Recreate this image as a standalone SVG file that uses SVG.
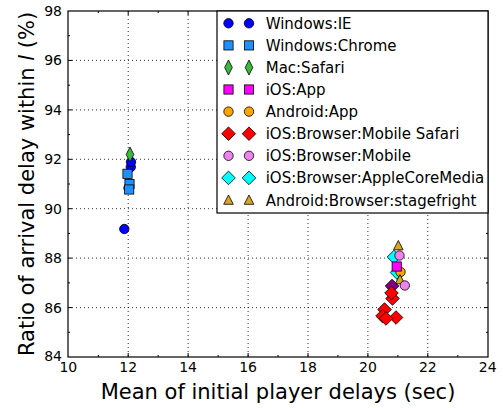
<svg xmlns="http://www.w3.org/2000/svg" xmlns:xlink="http://www.w3.org/1999/xlink" width="503" height="408" viewBox="0 0 503 408">
<style>
text{font-family:"DejaVu Sans","Liberation Sans",sans-serif;fill:#000}
.tk{font-size:14px}
.lg{font-size:15px}
.ax{font-size:21px}
.grid line{stroke:#000;stroke-width:0.8;stroke-dasharray:1,3}
.tick line{stroke:#000;stroke-width:1}
.m{stroke:#000;stroke-width:0.8}
.ie{fill:#0000ff}.ch{fill:#1e90ff}.sa{fill:#3cb83c}.ap{fill:#ff00ff}.aa{fill:#ffa500}
.ms{fill:#ff0000}.mo{fill:#ee82ee}.cm{fill:#00ffff}.sf{fill:#daa520}.pu{fill:#800080}
</style>
<defs>
<circle id="mc" r="4.7"/>
<rect id="msq" x="-4.6" y="-4.6" width="9.2" height="9.2"/>
<path id="md" d="M0,-7.5L3.8,0L0,7.5L-3.8,0Z"/>
<path id="mD" d="M0,-6.8L6.8,0L0,6.8L-6.8,0Z"/>
<path id="mt" d="M0,-5.5L4.8,3.8L-4.8,3.8Z"/>
</defs>
<rect width="503" height="408" fill="#fff"/>
<g id="grid" class="grid">
<line x1="128.2" y1="11" x2="128.2" y2="357"/>
<line x1="188.1" y1="11" x2="188.1" y2="357"/>
<line x1="248.1" y1="11" x2="248.1" y2="357"/>
<line x1="308" y1="11" x2="308" y2="357"/>
<line x1="367.9" y1="11" x2="367.9" y2="357"/>
<line x1="427.8" y1="11" x2="427.8" y2="357"/>
<line x1="68" y1="307.6" x2="488" y2="307.6"/>
<line x1="68" y1="258.1" x2="488" y2="258.1"/>
<line x1="68" y1="208.7" x2="488" y2="208.7"/>
<line x1="68" y1="159.3" x2="488" y2="159.3"/>
<line x1="68" y1="109.9" x2="488" y2="109.9"/>
<line x1="68" y1="60.4" x2="488" y2="60.4"/>
</g>
<g id="ticks" class="tick">
<path d="M128.2,357v-4M188.1,357v-4M248.1,357v-4M308,357v-4M367.9,357v-4M427.8,357v-4M128.2,11v4M188.1,11v4M248.1,11v4M308,11v4M367.9,11v4M427.8,11v4M98.3,357v-2M158.2,357v-2M218.1,357v-2M278,357v-2M337.9,357v-2M397.9,357v-2M457.8,357v-2M98.3,11v2M158.2,11v2M218.1,11v2M278,11v2M337.9,11v2M397.9,11v2M457.8,11v2M68,307.6h4M68,258.1h4M68,208.7h4M68,159.3h4M68,109.9h4M68,60.4h4M488,307.6h-4M488,258.1h-4M488,208.7h-4M488,159.3h-4M488,109.9h-4M488,60.4h-4M68,332.3h2M68,282.9h2M68,233.4h2M68,184h2M68,134.6h2M68,85.2h2M68,35.7h2M488,332.3h-2M488,282.9h-2M488,233.4h-2M488,184h-2M488,134.6h-2M488,85.2h-2M488,35.7h-2" stroke="#000" stroke-width="1" fill="none"/>
</g>
<g id="data">
<use href="#mc" class="m ie" x="124.3" y="229"/>
<use href="#mc" class="m ie" x="128.5" y="188"/>
<use href="#mc" class="m ie" x="130.8" y="167"/>
<use href="#mc" class="m ie" x="131" y="162"/>
<use href="#msq" class="m ch" x="129.5" y="184"/>
<use href="#msq" class="m ch" x="129.2" y="189.5"/>
<use href="#msq" class="m ch" x="127.5" y="173.8"/>
<use href="#md" class="m sa" x="130" y="154.5"/>
<use href="#mD" class="m cm" x="394" y="257"/>
<use href="#mt" class="m sf" x="398.3" y="246"/>
<use href="#mc" class="m mo" x="399.5" y="255.5"/>
<use href="#mD" class="m cm" x="397" y="272.5"/>
<use href="#mc" class="m aa" x="400.5" y="272"/>
<use href="#mt" class="m sf" x="400" y="280"/>
<use href="#msq" class="m ap" x="396.7" y="266.5"/>
<use href="#mc" class="m mo" x="404.8" y="285.5"/>
<use href="#mD" class="m pu" x="392" y="286"/>
<use href="#mD" class="m ms" x="392.5" y="298.5"/>
<use href="#mD" class="m ms" x="391.5" y="293"/>
<use href="#mD" class="m ms" x="384.5" y="309.5"/>
<use href="#mD" class="m ms" x="396" y="317.5"/>
<use href="#mD" class="m ms" x="382.5" y="316"/>
<use href="#mD" class="m ms" x="386" y="318.5"/>
</g>
<rect id="frame" x="68" y="11" width="420" height="346" fill="none" stroke="#000" stroke-width="1.2"/>
<g id="ylabels" class="tk" text-anchor="end">
<text x="62" y="16">98</text>
<text x="62" y="65.4">96</text>
<text x="62" y="114.9">94</text>
<text x="62" y="164.3">92</text>
<text x="62" y="213.7">90</text>
<text x="62" y="263.1">88</text>
<text x="62" y="312.6">86</text>
<text x="62" y="361">84</text>
</g>
<g id="xlabels" class="tk" text-anchor="middle">
<text x="68.3" y="372">10</text>
<text x="128.2" y="372">12</text>
<text x="188.1" y="372">14</text>
<text x="248.1" y="372">16</text>
<text x="308" y="372">18</text>
<text x="367.9" y="372">20</text>
<text x="427.8" y="372">22</text>
<text x="487.7" y="372">24</text>
</g>
<text id="xtitle" class="ax" x="278" y="399" text-anchor="middle">Mean of initial player delays (sec)</text>
<text id="ytitle" class="ax" transform="translate(34,184) rotate(-90)" text-anchor="middle">Ratio of arrival delay within <tspan font-style="italic">l</tspan> (%)</text>
<g id="legend">
<rect x="217" y="11" width="271" height="202" fill="#fff" stroke="#000" stroke-width="1.2"/>
<g id="lg-ie"><use href="#mc" class="m ie" x="228.5" y="23.3"/><use href="#mc" class="m ie" x="249" y="23.3"/><text class="lg" x="265.7" y="28.8">Windows:IE</text></g>
<g id="lg-ch"><use href="#msq" class="m ch" x="228.5" y="45.4"/><use href="#msq" class="m ch" x="249" y="45.4"/><text class="lg" x="265.7" y="50.9">Windows:Chrome</text></g>
<g id="lg-sa"><use href="#md" class="m sa" x="228.5" y="67.5"/><use href="#md" class="m sa" x="249" y="67.5"/><text class="lg" x="265.7" y="73">Mac:Safari</text></g>
<g id="lg-ap"><use href="#msq" class="m ap" x="228.5" y="89.5"/><use href="#msq" class="m ap" x="249" y="89.5"/><text class="lg" x="265.7" y="95">iOS:App</text></g>
<g id="lg-aa"><use href="#mc" class="m aa" x="228.5" y="111.6"/><use href="#mc" class="m aa" x="249" y="111.6"/><text class="lg" x="265.7" y="117.1">Android:App</text></g>
<g id="lg-ms"><use href="#mD" class="m ms" x="228.5" y="133.7"/><use href="#mD" class="m ms" x="249" y="133.7"/><text class="lg" x="265.7" y="139.2">iOS:Browser:Mobile Safari</text></g>
<g id="lg-mo"><use href="#mc" class="m mo" x="228.5" y="155.8"/><use href="#mc" class="m mo" x="249" y="155.8"/><text class="lg" x="265.7" y="161.3">iOS:Browser:Mobile</text></g>
<g id="lg-cm"><use href="#mD" class="m cm" x="228.5" y="177.9"/><use href="#mD" class="m cm" x="249" y="177.9"/><text class="lg" x="265.7" y="183.4">iOS:Browser:AppleCoreMedia</text></g>
<g id="lg-sf"><use href="#mt" class="m sf" x="228.5" y="200.5"/><use href="#mt" class="m sf" x="249" y="200.5"/><text class="lg" x="265.7" y="205.5">Android:Browser:stagefright</text></g>
</g>
</svg>
